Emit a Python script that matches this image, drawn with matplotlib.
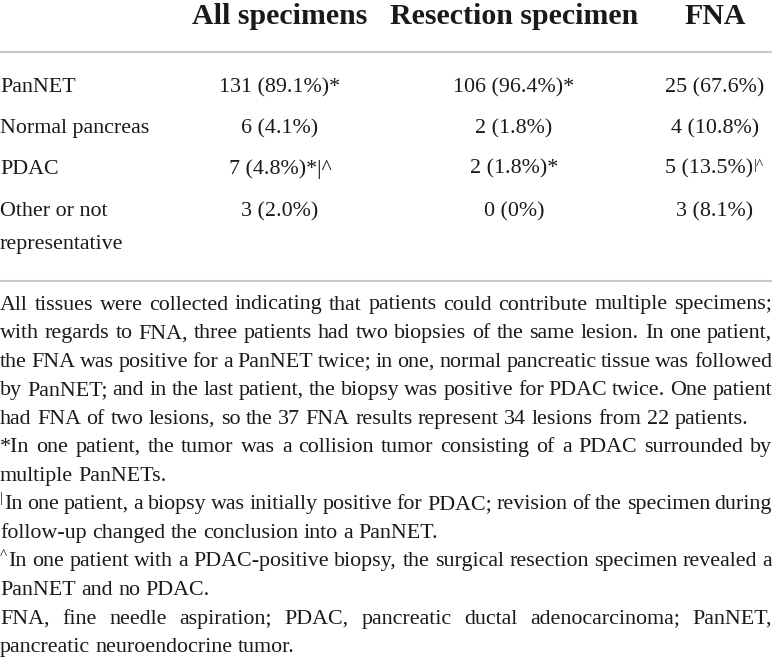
import matplotlib
matplotlib.use("Agg")
import matplotlib.pyplot as plt

plt.rcParams["font.family"] = ["Liberation Serif", "DejaVu Serif"]

# table content
col_labels = ["All specimens", "Resection specimen", "FNA"]
row_labels = ["PanNET", "Normal pancreas", "PDAC", "Other or not\nrepresentative"]
all_spec = ["131 (89.1%)*", "6 (4.1%)", "7 (4.8%)*|^", "3 (2.0%)"]
resection = ["106 (96.4%)*", "2 (1.8%)", "2 (1.8%)*", "0 (0%)"]
fna = ["25 (67.6%)", "4 (10.8%)", "5 (13.5%)", "3 (8.1%)"]
fna_sup = ["", "", "|^", ""]

# footnote lines (as broken in the source), last flag = justified
notes = [
    ("", "All tissues were collected indicating that patients could contribute multiple specimens;", True),
    ("", "with regards to FNA, three patients had two biopsies of the same lesion. In one patient,", True),
    ("", "the FNA was positive for a PanNET twice; in one, normal pancreatic tissue was followed", True),
    ("", "by PanNET; and in the last patient, the biopsy was positive for PDAC twice. One patient", True),
    ("", "had FNA of two lesions, so the 37 FNA results represent 34 lesions from 22 patients.", False),
    ("", "*In one patient, the tumor was a collision tumor consisting of a PDAC surrounded by", True),
    ("", "multiple PanNETs.", False),
    ("|", "In one patient, a biopsy was initially positive for PDAC; revision of the specimen during", True),
    ("", "follow-up changed the conclusion into a PanNET.", False),
    ("^", "In one patient with a PDAC-positive biopsy, the surgical resection specimen revealed a", True),
    ("", "PanNET and no PDAC.", False),
    ("", "FNA, fine needle aspiration; PDAC, pancreatic ductal adenocarcinoma; PanNET,", True),
    ("", "pancreatic neuroendocrine tumor.", False),
]

W, H = 772, 660
fs = 15.8
hfs = 21.5
txt_color = "#1a1a1a"
rule_color = "#c8c8c8"

fig = plt.figure(figsize=(W / 100, H / 100), dpi=100)
ax = fig.add_axes([0, 0, 1, 1])
ax.set_xlim(0, W)
ax.set_ylim(H, 0)
ax.axis("off")
renderer = fig.canvas.get_renderer()

col_x = [280, 514, 715]
header_y = 17
row_y = [88, 129, 169, 212]

for x, lab in zip(col_x, col_labels):
    ax.text(x, header_y, lab, ha="center", va="center", fontsize=hfs,
            fontweight="bold", color=txt_color)

ax.plot([0, W], [52, 52], color=rule_color, lw=1.5)
ax.plot([0, W], [281, 281], color=rule_color, lw=1.5)

for i, y in enumerate(row_y):
    lab = row_labels[i]
    if "\n" in lab:
        first, second = lab.split("\n")
        ax.text(0, y, first, ha="left", va="center", fontsize=fs, color=txt_color)
        ax.text(0, 244, second, ha="left", va="center", fontsize=fs, color=txt_color)
    else:
        ax.text(0, y, lab, ha="left", va="center", fontsize=fs, color=txt_color)
    ax.text(col_x[0], y, all_spec[i], ha="center", va="center", fontsize=fs, color=txt_color)
    ax.text(col_x[1], y, resection[i], ha="center", va="center", fontsize=fs, color=txt_color)
    if fna_sup[i]:
        t = ax.text(col_x[2] - 6, y, fna[i], ha="center", va="center", fontsize=fs, color=txt_color)
        ax.annotate(fna_sup[i], xy=(1, 1), xycoords=t, xytext=(0.5, 0),
                    textcoords="offset points", ha="left", va="top",
                    fontsize=fs * 0.7, color=txt_color)
    else:
        ax.text(col_x[2], y, fna[i], ha="center", va="center", fontsize=fs, color=txt_color)


def text_width(s, size):
    t = ax.text(0, 0, s, fontsize=size)
    w = t.get_window_extent(renderer).width
    t.remove()
    return w


space_w = text_width("a b", fs) - text_width("ab", fs)
y0, dy = 305, 28.55
for k, (sup, line, justify) in enumerate(notes):
    y = y0 + k * dy
    x = 0
    if sup:
        ax.text(0, y - 6, sup, ha="left", va="center", fontsize=fs * 0.7, color=txt_color)
        x = text_width(sup, fs * 0.7) + 1
    words = line.split(" ")
    widths = [text_width(w, fs) for w in words]
    if justify and len(words) > 1:
        gap = (W - x - sum(widths)) / (len(words) - 1)
    else:
        gap = space_w
    for w, wd in zip(words, widths):
        ax.text(x, y, w, ha="left", va="center", fontsize=fs, color=txt_color)
        x += wd + gap

fig.savefig("out.png", dpi=100)
